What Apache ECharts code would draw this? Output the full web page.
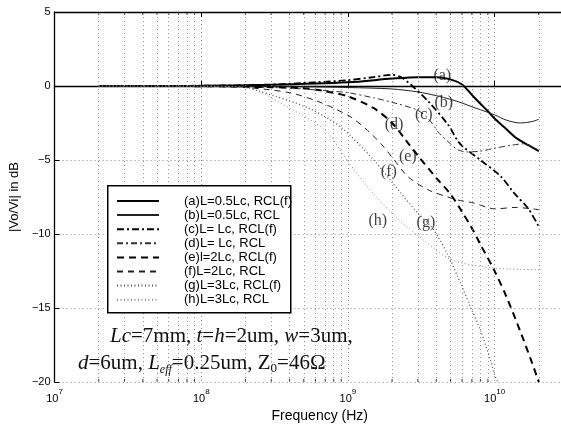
<!DOCTYPE html>
<html>
<head>
<meta charset="utf-8">
<script src="https://cdn.jsdelivr.net/npm/echarts@6/dist/echarts.min.js"></script>
<style>
  html, body { margin: 0; padding: 0; background: #fff; }
  #chart { width: 561px; height: 428px; }
</style>
</head>
<body>
<div id="chart"></div>
<script>
// 各曲线数据: [频率Hz, dB]
var curveA = [[2e7,0],[1e8,0.02],[3e8,0.08],[1e9,0.25],[2e9,0.5],[3e9,0.6],[4e9,0.6],[5e9,0.45],[6e9,0.1],[7e9,-0.6],[8e9,-1.2],[9e9,-1.7],[1e10,-2.2],[1.2e10,-2.9],[1.4e10,-3.5],[1.7e10,-4.0],[2e10,-4.4]];
var curveB = [[2e7,0],[1e8,-0.01],[5e8,-0.05],[1e9,-0.1],[2e9,-0.2],[3e9,-0.4],[4e9,-0.65],[5e9,-0.9],[6e9,-1.15],[7e9,-1.4],[8e9,-1.6],[1e10,-1.95],[1.2e10,-2.3],[1.5e10,-2.5],[1.8e10,-2.4],[2e10,-2.25]];
var curveC = [[2e7,0],[1e8,0.02],[3e8,0.1],[6e8,0.25],[1e9,0.4],[1.5e9,0.6],[2e9,0.75],[2.3e9,0.6],[2.7e9,0.07],[3.5e9,-1.0],[4.8e9,-2.6],[5.6e9,-3.7],[6.1e9,-4.1],[8e9,-5.0],[1.1e10,-6.1],[1.35e10,-7.2],[1.7e10,-8.3],[2e10,-9.5]];
var curveD = [[2e7,0],[1e8,-0.02],[3e8,-0.1],[5e8,-0.2],[7.7e8,-0.35],[1e9,-0.45],[1.5e9,-0.8],[2e9,-1.1],[3e9,-1.65],[3.6e9,-2.3],[4.2e9,-3.2],[5e9,-3.9],[5.6e9,-4.3],[6.5e9,-4.45],[8e9,-4.4],[1e10,-4.2],[1.3e10,-4.0],[1.6e10,-3.9],[1.8e10,-4.1],[2e10,-4.35]];
var curveE = [[2e7,0],[1e8,-0.01],[3e8,-0.08],[5e8,-0.15],[7e8,-0.35],[1e9,-0.7],[1.5e9,-1.5],[2e9,-2.5],[2.5e9,-3.7],[3e9,-4.7],[4e9,-6.2],[5e9,-7.3],[6e9,-8.5],[7e9,-9.6],[8e9,-10.7],[1e10,-12.5],[1.2e10,-14.2],[1.5e10,-16.6],[1.8e10,-18.7],[2e10,-20]];
var curveF = [[2e7,0],[1e8,-0.02],[2e8,-0.1],[4e8,-0.45],[6.25e8,-1.04],[8e8,-1.5],[1.05e9,-2.1],[1.36e9,-3.0],[1.68e9,-3.9],[2.07e9,-5.0],[2.55e9,-6.1],[3.5e9,-7.0],[4.8e9,-7.5],[5.6e9,-7.7],[7.2e9,-7.9],[8.9e9,-8.2],[1e10,-8.3],[1.4e10,-8.2],[1.8e10,-8.3],[2e10,-8.35]];
var curveG = [[2e7,0],[1e8,-0.01],[2e8,-0.1],[2.5e8,-0.35],[5.4e8,-1.5],[9e8,-2.8],[1.5e9,-5],[2e9,-6.5],[3e9,-8.6],[3.8e9,-9.65],[4.8e9,-11.4],[5.9e9,-13.4],[6.9e9,-15],[8e9,-16.5],[9.35e9,-18.5],[1e10,-19.5],[1.05e10,-20]];
var curveH = [[2e7,0],[1e8,-0.01],[2e8,-0.1],[4e8,-1.5],[7e8,-3.0],[1e9,-5.1],[1.5e9,-7.3],[2.1e9,-8.8],[3e9,-10.1],[5e9,-11.7],[1e10,-12.3],[2e10,-12.4]];

var legendNames = ['(a)L=0.5Lc, RCL(f)', '(b)L=0.5Lc, RCL', '(c)L= Lc, RCL(f)', '(d)L= Lc, RCL',
  '(e)l=2Lc, RCL(f)', '(f)L=2Lc, RCL', '(g)L=3Lc, RCL(f)', '(h)L=3Lc, RCL'];
var curveTags = [['(a)',4.4e9,0.69],['(b)',4.5e9,-1.15],['(c)',3.29e9,-1.95],['(d)',2.06e9,-2.6],
  ['(e)',2.56e9,-4.8],['(f)',1.9e9,-5.8],['(g)',3.4e9,-9.25],['(h)',1.6e9,-9.1]];
var minorTicks = [2e7,3e7,4e7,5e7,6e7,7e7,8e7,9e7,2e8,3e8,4e8,5e8,6e8,7e8,8e8,9e8,
  2e9,3e9,4e9,5e9,6e9,7e9,8e9,9e9,2e10];
var yTicks = [-20, -15, -10, -5, 0, 5];

var xMin = 1e7, xMax = 2.835e10;
var chart = echarts.init(document.getElementById('chart'));

function lineSeries(name, data, width, color, dash) {
  return {
    name: name, type: 'line', data: data, smooth: 0.3, symbol: 'none',
    lineStyle: {width: width, color: color, type: dash},
    itemStyle: {color: color}, z: 3
  };
}

var gridDots = {type: [1, 3], color: '#8a8a8a', width: 1};

var series = [
  lineSeries(legendNames[0], curveA, 2, '#000', 'solid'),
  lineSeries(legendNames[1], curveB, 1, '#222', 'solid'),
  lineSeries(legendNames[2], curveC, 1.8, '#000', [7, 3, 2, 3]),
  lineSeries(legendNames[3], curveD, 1, '#333', [6, 3, 2, 3]),
  lineSeries(legendNames[4], curveE, 2, '#000', [7, 5]),
  lineSeries(legendNames[5], curveF, 1, '#222', [6, 5]),
  lineSeries(legendNames[6], curveG, 1.3, '#555', [1, 2.5]),
  lineSeries(legendNames[7], curveH, 1, '#888', [1, 2.5]),
  {
    // 次刻度网格线
    type: 'line', data: [], silent: true, z: 1,
    markLine: {
      silent: true, symbol: ['none', 'none'], label: {show: false},
      lineStyle: gridDots, animation: false,
      data: minorTicks.map(function (v) { return {xAxis: v}; })
    }
  },
  {
    type: 'scatter', silent: true, symbol: 'rect', symbolSize: [1, 3], symbolOffset: [0, -1.5],
    itemStyle: {color: '#000'}, z: 4,
    data: minorTicks.map(function (v) { return [v, -20]; })
  },
  {
    type: 'scatter', silent: true, symbol: 'rect', symbolSize: [1, 3], symbolOffset: [0, 1.5],
    itemStyle: {color: '#000'}, z: 4,
    data: minorTicks.map(function (v) { return [v, 5]; })
  },
  {
    type: 'scatter', silent: true, symbolSize: 0, z: 6,
    data: curveTags.map(function (t) { return {name: t[0], value: [t[1], t[2]]}; }),
    label: {
      show: true, position: 'inside', formatter: '{b}',
      fontFamily: 'Liberation Serif', fontSize: 16, color: '#111'
    }
  }
];

var option = {
  animation: false,
  backgroundColor: '#fff',
  grid: {left: 52, top: 12, right: 0, bottom: 39},
  xAxis: [{
    type: 'log', logBase: 10, min: xMin, max: xMax,
    name: 'Frequency (Hz)', nameLocation: 'middle', nameGap: 25,
    nameTextStyle: {fontFamily: 'Liberation Sans', fontSize: 14, color: '#000', padding: [0, 0, 0, 24]},
    axisLine: {lineStyle: {color: '#000', width: 1.3}},
    axisTick: {inside: true, length: 5, lineStyle: {color: '#000'}},
    axisLabel: {
      margin: 6, color: '#000', showMaxLabel: false,
      formatter: function (v) {
        var e = Math.round(Math.log10(v));
        if (Math.abs(Math.log10(v) - e) > 1e-6) return '';
        return '{b|10}{s|' + e + '}';
      },
      rich: {
        b: {fontFamily: 'Liberation Sans', fontSize: 11, color: '#000', verticalAlign: 'bottom', lineHeight: 16},
        s: {fontFamily: 'Liberation Sans', fontSize: 8, color: '#000', verticalAlign: 'top', lineHeight: 16}
      }
    },
    splitLine: {show: true, lineStyle: gridDots}
  }, {
    type: 'log', logBase: 10, min: xMin, max: xMax, position: 'top',
    axisLine: {lineStyle: {color: '#000', width: 1.3}},
    axisTick: {inside: true, length: 5, lineStyle: {color: '#000'}},
    axisLabel: {show: false}, splitLine: {show: false}
  }],
  yAxis: {
    type: 'value', min: -20, max: 5, interval: 5,
    name: '|Vo/Vi| in dB', nameLocation: 'middle', nameGap: 32,
    nameTextStyle: {fontFamily: 'Liberation Sans', fontSize: 13, color: '#000'},
    axisLine: {show: true, lineStyle: {color: '#000', width: 1.3}},
    axisTick: {inside: true, length: 5, lineStyle: {color: '#000'}},
    axisLabel: {
      margin: 4, fontFamily: 'Liberation Sans', fontSize: 11, color: '#000',
      formatter: function (v) {
        if (yTicks.indexOf(v) < 0) return '';
        return v < 0 ? '\u2212' + (-v) : String(v);
      }
    },
    splitLine: {show: true, lineStyle: gridDots}
  },
  legend: {
    data: legendNames, orient: 'vertical', left: 116, top: 194, padding: 0,
    itemWidth: 42, itemHeight: 14, itemGap: 0.1, z: 8,
    itemStyle: {opacity: 0},
    textStyle: {fontFamily: 'Liberation Sans', fontSize: 13, color: '#000', lineHeight: 14, padding: [0, 0, 0, 20]}
  },
  graphic: [
    {
      type: 'rect', z: 7, left: 107, top: 185,
      shape: {width: 183, height: 127},
      style: {fill: '#fff', stroke: '#000', lineWidth: 1.5}
    },
    {
      type: 'text', z: 7, left: 110, top: 326,
      style: {
        text: '{i|Lc}{r|=7mm, }{i|t}{r|=}{i|h}{r|=2um, }{i|w}{r|=3um,}',
        rich: {
          i: {fontFamily: 'Liberation Serif', fontStyle: 'italic', fontSize: 21, fill: '#111', lineHeight: 24},
          r: {fontFamily: 'Liberation Serif', fontSize: 21, fill: '#111', lineHeight: 24}
        }
      }
    },
    {
      type: 'text', z: 7, left: 78, top: 353,
      style: {
        text: '{i|d}{r|=6um, }{i|L}{is|eff}{r|=0.25um, Z}{s|0}{r|=46\u03A9}',
        rich: {
          i: {fontFamily: 'Liberation Serif', fontStyle: 'italic', fontSize: 21, fill: '#111', lineHeight: 24},
          r: {fontFamily: 'Liberation Serif', fontSize: 21, fill: '#111', lineHeight: 24},
          is: {fontFamily: 'Liberation Serif', fontStyle: 'italic', fontSize: 12, fill: '#111', lineHeight: 24, verticalAlign: 'bottom'},
          s: {fontFamily: 'Liberation Serif', fontSize: 13, fill: '#111', lineHeight: 24, verticalAlign: 'bottom'}
        }
      }
    }
  ],
  series: series
};

chart.setOption(option);
</script>
</body>
</html>
